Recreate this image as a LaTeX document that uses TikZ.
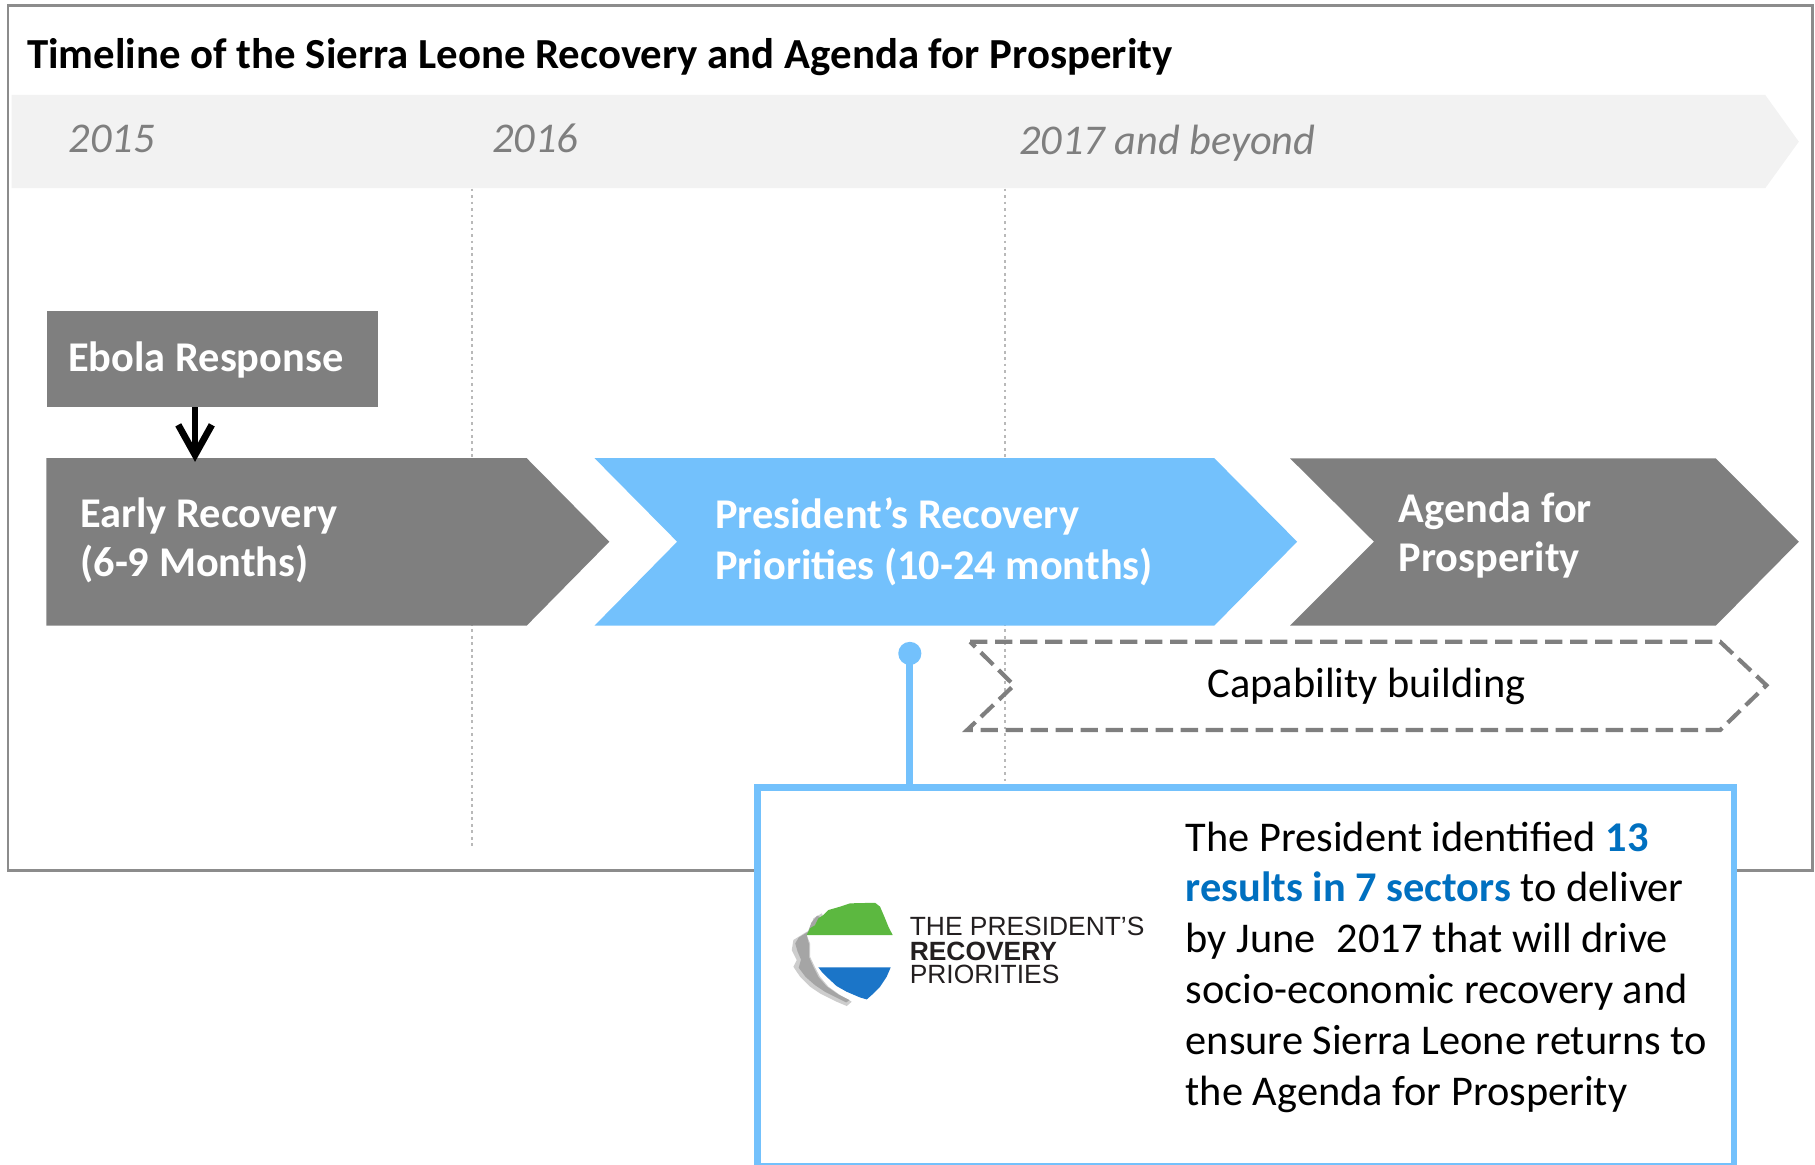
\documentclass[tikz,border=0pt]{standalone}
\usepackage{fontspec}
\setmainfont{Carlito}
\newfontfamily\logofont{Liberation Sans}
\usetikzlibrary{arrows.meta}
\definecolor{sgray}{RGB}{127,127,127}
\definecolor{sblue}{RGB}{115,193,252}
\definecolor{bandc}{RGB}{242,242,242}
\definecolor{framec}{RGB}{140,140,140}
\definecolor{dotc}{RGB}{185,185,185}
\definecolor{kblue}{RGB}{0,112,192}
\definecolor{lgreen}{RGB}{92,184,64}
\definecolor{lblue}{RGB}{27,117,200}
\definecolor{lgray}{RGB}{165,165,165}
\definecolor{lgrayb}{RGB}{205,205,205}
\definecolor{logotext}{RGB}{35,31,32}
\newcommand\myfs{\fontsize{18.3}{22}\selectfont}
\begin{document}
\begin{tikzpicture}[x=0.5pt,y=-0.5pt,
  txt/.style={anchor=base west, inner sep=0pt, font=\myfs},
  wtxt/.style={anchor=base west, inner sep=0pt, text=white, font=\myfs\bfseries},
  ytxt/.style={anchor=base west, inner sep=0pt, text=sgray, font=\myfs\itshape},
  ltxt/.style={anchor=base west, inner sep=0pt, text=logotext, font=\logofont\fontsize{11.4}{13}\selectfont},
  dotline/.style={dotc, line width=1pt, dash pattern=on 1.2pt off 1.6pt},
  gbox/.style={fill=sgray, draw=none, inner sep=0pt, minimum width=143pt, minimum height=41.5pt},
  calloutbox/.style={draw=sblue, line width=3pt, fill=white, inner sep=0pt, minimum width=422pt, minimum height=164pt},
  pinhead/.style={circle, fill=sblue, draw=none, inner sep=0pt, minimum size=10pt},
  arr/.style={-{Straight Barb[length=13pt,width=14.5pt]}, line width=2.9pt, black}
]
\useasboundingbox (0,0) rectangle (1568,1006);
% outer frame
\draw[framec, line width=1.2pt] (7,5) rectangle (1566,752);
% year band
\fill[bandc] (10,82) -- (1525,82) -- (1554,122.4) -- (1525,162.6) -- (10,162.6) -- cycle;
% title
\node[txt, font=\fontsize{18.5}{22}\selectfont\bfseries] (title) at (23,59) {Timeline of the Sierra Leone Recovery and Agenda for Prosperity};
% years
\node[ytxt] (y2015) at (59,132) {2015};
\node[ytxt] (y2016) at (425,132) {2016};
\node[ytxt] (y2017) at (880,133.5) {2017 and beyond};
% dotted separators
\draw[dotline] (408,163) -- (408,733);
\draw[dotline] (868,163) -- (868,680);
% Ebola response
\node[gbox] (ebola) at (183.5,310) {};
\node[wtxt] (ebolat) at (58.6,321) {Ebola Response};
% Early recovery chevron
\fill[sgray] (40,395.8) -- (455,395.8) -- (526.4,468) -- (455,540.5) -- (40,540.5) -- cycle;
\node[wtxt] (er1) at (69,456) {Early Recovery};
\node[wtxt] (er2) at (69,498) {(6-9 Months)};
\coordinate (ertop) at (168.5,399);
\draw[arr] ([xshift=-7.5pt]ebola.south) -- (ertop);
% President's chevron
\fill[sblue] (513.6,395.8) -- (1049,395.8) -- (1120.6,468) -- (1049,540.5) -- (513.6,540.5) -- (585,468) -- cycle;
\node[wtxt] (pr1) at (617.5,457) {President’s Recovery};
\node[wtxt] (pr2) at (617.5,501) {Priorities (10-24 months)};
% Agenda chevron
\fill[sgray] (1114.5,396) -- (1482.3,396) -- (1554,468) -- (1482.3,540.5) -- (1114.5,540.5) -- (1187,468) -- cycle;
\node[wtxt] (ag1) at (1208,451) {Agenda for};
\node[wtxt] (ag2) at (1208,493.5) {Prosperity};
% Capability building chevron
\draw[sgray, line width=1.8pt, dash pattern=on 7.5pt off 3.3pt, line join=miter]
  (838,554.4) -- (1486,554.4) -- (1526,592) -- (1486,630.7) -- (835.5,630.7) -- (876,592) -- cycle;
\node[txt] (cap) at (1043,603) {Capability building};
% callout
\node[calloutbox] (callout) at (1076,844) {};
\node[pinhead] (pin) at (786,564.5) {};
\draw[sblue, line width=3pt] (pin.center) -- (pin.center |- callout.north);
% logo map
\fill[lgrayb] (709.9,789.1) -- (702.7,793.4) -- (699.8,803.5) -- (695.5,805.8) -- (685.4,812.1) -- (684,820.8) -- (688.3,829.4) -- (685.4,835.2) -- (691.2,843.8) -- (699.8,852.4) -- (708.4,858.2) -- (722.8,865.4) -- (731.5,869.1) -- (735.8,865.4) -- (725.7,859.6) -- (715.6,852.4) -- (708.4,843.8) -- (704.1,835.7) -- (699.8,826.5) -- (699.8,815.0) -- (696.9,807.8) -- (704.1,799.2) -- (711.3,792) -- cycle;
\fill[lgray] (706,791) -- (701,797) -- (698,805) -- (690,810) -- (687,815) -- (689,822) -- (692,829) -- (690,836) -- (696,844) -- (704,851) -- (713,857) -- (725,863) -- (731,866) -- (734,864) -- (724,859) -- (714,852) -- (707,844) -- (703,836) -- (699,827) -- (699,816) -- (697,808) -- (703,800) -- (710,793) -- cycle;
\fill[lgreen] (696.9,807.8) -- (699.8,802.0) -- (704.1,799.2) -- (707.0,793.4) -- (711.3,790.5) -- (715.6,786.2) -- (725.7,783.3) -- (734.4,780.4) -- (756.0,779.9) -- (760.3,783.3) -- (764.6,793.4) -- (767.5,800.6) -- (771.2,807.8) -- cycle;
\fill[lblue] (707,835.7) -- (769.5,835.7) -- (766,843.8) -- (760.3,852.4) -- (753.1,859.6) -- (748.8,863.4) -- (743,861.7) -- (731.5,856.8) -- (722.8,851.9) -- (715.6,845.2) -- (709.9,839.5) -- cycle;
\node[ltxt] (lg1) at (785.6,807.8) {THE PRESIDENT’S};
\node[ltxt, font=\logofont\fontsize{11.4}{13}\selectfont\bfseries] (lg2) at (785.6,829.4) {RECOVERY};
\node[ltxt] (lg3) at (785.6,850) {PRIORITIES};
% callout text
\node[txt] (c1) at (1024,735.2) {The President identified {\bfseries\color{kblue}13}};
\node[txt] (c2) at (1024,779.1) {{\bfseries\color{kblue}results in 7 sectors} to deliver};
\node[txt] (c3) at (1024,823) {by June\enspace 2017 that will drive};
\node[txt] (c4) at (1024,866.9) {socio-economic recovery and};
\node[txt] (c5) at (1024,910.8) {ensure Sierra Leone returns to};
\node[txt] (c6) at (1024,954.7) {the Agenda for Prosperity};
\end{tikzpicture}
\end{document}
